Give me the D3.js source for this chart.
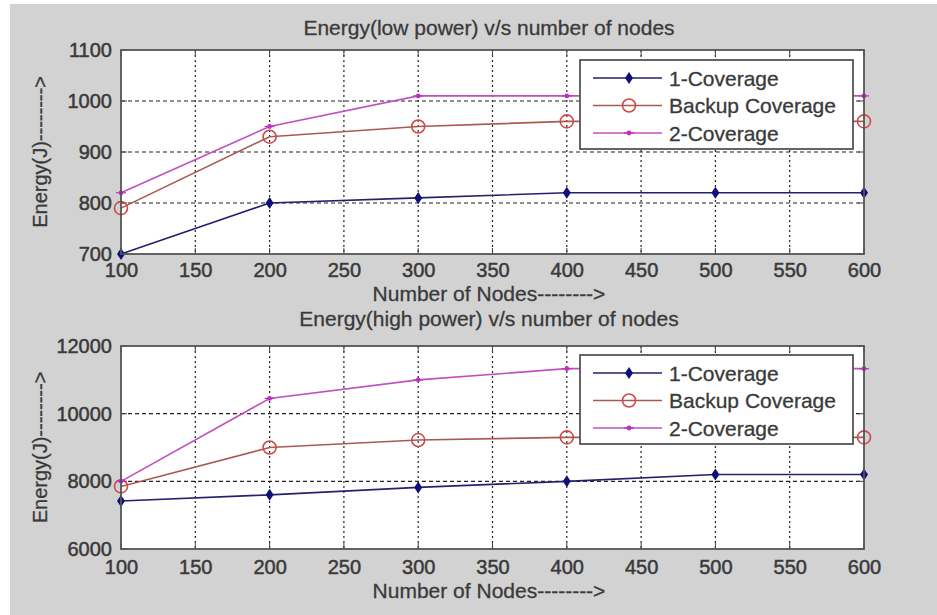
<!DOCTYPE html>
<html><head><meta charset="utf-8">
<script src="https://cdn.jsdelivr.net/npm/d3@7"></script>
<style>body{margin:0;background:#fff;}svg{display:block;font-family:"Liberation Sans",Arial,sans-serif;}</style>
</head><body>
<svg id="c" width="937" height="615"></svg>
<script>
const nodes = [100, 200, 300, 400, 500, 600];
const seriesNames = ["1-Coverage", "Backup Coverage", "2-Coverage"];
const lowOne = [700, 800, 810, 820, 820, 820];
const lowBackup = [790, 930, 950, 960, 960, 960];
const lowTwo = [820, 950, 1010, 1010, 1010, 1010];
const highOne = [7420, 7600, 7820, 8000, 8200, 8200];
const highBackup = [7850, 9000, 9220, 9300, 9300, 9300];
const highTwo = [8000, 10450, 11000, 11330, 11330, 11330];
const xTicks = [100, 150, 200, 250, 300, 350, 400, 450, 500, 550, 600];
const lowYTicks = [700, 800, 900, 1000, 1100];
const highYTicks = [6000, 8000, 10000, 12000];
const titles = ["Energy(low power) v/s number of nodes", "Energy(high power) v/s number of nodes"];
const xLabel = "Number of Nodes-------->";
const yLabel = "Energy(J)-------->";

const svg = d3.select("#c");
svg.append("rect").attr("x", 10).attr("y", 4).attr("width", 927).attr("height", 611).attr("fill", "#d2d2d2");

const colors = ["#22226e", "#a85a52", "#c050c0"];
const markerColors = ["#10107a", "#d04848", "#c030c0"];
const textColor = "#3a3a3a";

function panel(top, bottom, yDomain, yTicks, data, title, legendTop, titleY, xLabelY, xPad) {
  const x = d3.scaleLinear().domain([100, 600]).range([121, 864]);
  const y = d3.scaleLinear().domain(yDomain).range([bottom, top]);
  const g = svg.append("g");
  g.append("rect").attr("x", 121).attr("y", top).attr("width", 743).attr("height", bottom - top).attr("fill", "#fff");
  // grid
  g.selectAll(".vg").data(xTicks.slice(1, -1)).join("line")
    .attr("x1", d => x(d)).attr("x2", d => x(d)).attr("y1", top).attr("y2", bottom)
    .attr("stroke", "#222").attr("stroke-width", 1.2).attr("stroke-dasharray", "2,3");
  g.selectAll(".hg").data(yTicks.slice(1, -1)).join("line")
    .attr("x1", 121).attr("x2", 864).attr("y1", d => y(d)).attr("y2", d => y(d))
    .attr("stroke", "#222").attr("stroke-width", 1.2).attr("stroke-dasharray", "4,3");
  // axes
  const xa = g.append("g").attr("transform", `translate(0,${bottom})`)
    .call(d3.axisBottom(x).tickValues(xTicks).tickSize(0).tickPadding(xPad));
  const ya = g.append("g").attr("transform", `translate(121,0)`)
    .call(d3.axisLeft(y).tickValues(yTicks).tickFormat(d3.format("d")).tickSize(0).tickPadding(9));
  [xa, ya].forEach(a => {
    a.select(".domain").remove();
    a.selectAll("text").attr("fill", textColor).attr("stroke", textColor).attr("stroke-width", 0.5)
      .attr("font-size", 20).style("font-family", "Liberation Sans, Arial, sans-serif");
  });
  // inner tick marks
  g.selectAll(".tt").data(xTicks).join("line")
    .attr("x1", d => x(d)).attr("x2", d => x(d)).attr("y1", top).attr("y2", top + 6).attr("stroke", "#444");
  g.selectAll(".bt").data(xTicks).join("line")
    .attr("x1", d => x(d)).attr("x2", d => x(d)).attr("y1", bottom).attr("y2", bottom - 6).attr("stroke", "#444");
  g.selectAll(".rt").data(yTicks).join("line")
    .attr("x1", 864).attr("x2", 858).attr("y1", d => y(d)).attr("y2", d => y(d)).attr("stroke", "#444");
  g.selectAll(".lt").data(yTicks).join("line")
    .attr("x1", 121).attr("x2", 127).attr("y1", d => y(d)).attr("y2", d => y(d)).attr("stroke", "#444");

  const line = d3.line().x((d, i) => x(nodes[i])).y(d => y(d));
  data.forEach((vals, s) => {
    g.append("path").datum(vals).attr("d", line).attr("fill", "none")
      .attr("stroke", colors[s]).attr("stroke-width", 1.6);
    vals.forEach((v, i) => drawMarker(g, s, x(nodes[i]), y(v)));
  });
  g.append("rect").attr("x", 121).attr("y", top).attr("width", 743).attr("height", bottom - top)
    .attr("fill", "none").attr("stroke", "#555").attr("stroke-width", 1.8);

  // legend
  const lg = g.append("g");
  lg.append("rect").attr("x", 580).attr("y", legendTop).attr("width", 273).attr("height", 89)
    .attr("fill", "#fff").attr("stroke", "#555").attr("stroke-width", 1.8);
  seriesNames.forEach((n, s) => {
    const yy = legendTop + 18 + s * 27.5;
    lg.append("line").attr("x1", 593).attr("x2", 662).attr("y1", yy).attr("y2", yy)
      .attr("stroke", colors[s]).attr("stroke-width", 1.6);
    drawMarker(lg, s, 629, yy);
    lg.append("text").attr("x", 669).attr("y", yy).attr("dy", "0.36em")
      .attr("font-size", 21).attr("fill", textColor).attr("stroke", textColor).attr("stroke-width", 0.3).text(n);
  });

  g.append("text").attr("x", 489).attr("y", titleY).attr("text-anchor", "middle")
    .attr("font-size", 21).attr("fill", textColor).attr("stroke", textColor).attr("stroke-width", 0.3).text(title);
  g.append("text").attr("x", 489).attr("y", xLabelY).attr("text-anchor", "middle")
    .attr("font-size", 21).attr("fill", textColor).attr("stroke", textColor).attr("stroke-width", 0.3).text(xLabel);
  g.append("text").attr("transform", `translate(47,${(top + bottom) / 2}) rotate(-90)`)
    .attr("text-anchor", "middle").attr("font-size", 20).attr("fill", textColor)
    .attr("stroke", textColor).attr("stroke-width", 0.3).text(yLabel);
}

function drawMarker(g, s, cx, cy) {
  if (s === 0) {
    g.append("path").attr("d", `M${cx},${cy - 6}L${cx + 4},${cy}L${cx},${cy + 6}L${cx - 4},${cy}Z`)
      .attr("fill", markerColors[0]);
  } else if (s === 1) {
    g.append("circle").attr("cx", cx).attr("cy", cy).attr("r", 6.5)
      .attr("fill", "none").attr("stroke", markerColors[1]).attr("stroke-width", 1.6);
  } else {
    g.append("circle").attr("cx", cx).attr("cy", cy).attr("r", 2.4).attr("fill", markerColors[2]);
    g.append("line").attr("x1", cx - 5).attr("x2", cx + 5).attr("y1", cy).attr("y2", cy)
      .attr("stroke", markerColors[2]).attr("stroke-width", 1.2);
  }
}

panel(50, 254, [700, 1100], lowYTicks, [lowOne, lowBackup, lowTwo], titles[0], 60, 35, 301, 9);
panel(346, 549, [6000, 12000], highYTicks, [highOne, highBackup, highTwo], titles[1], 355, 326, 598, 11);
</script>
</body></html>
